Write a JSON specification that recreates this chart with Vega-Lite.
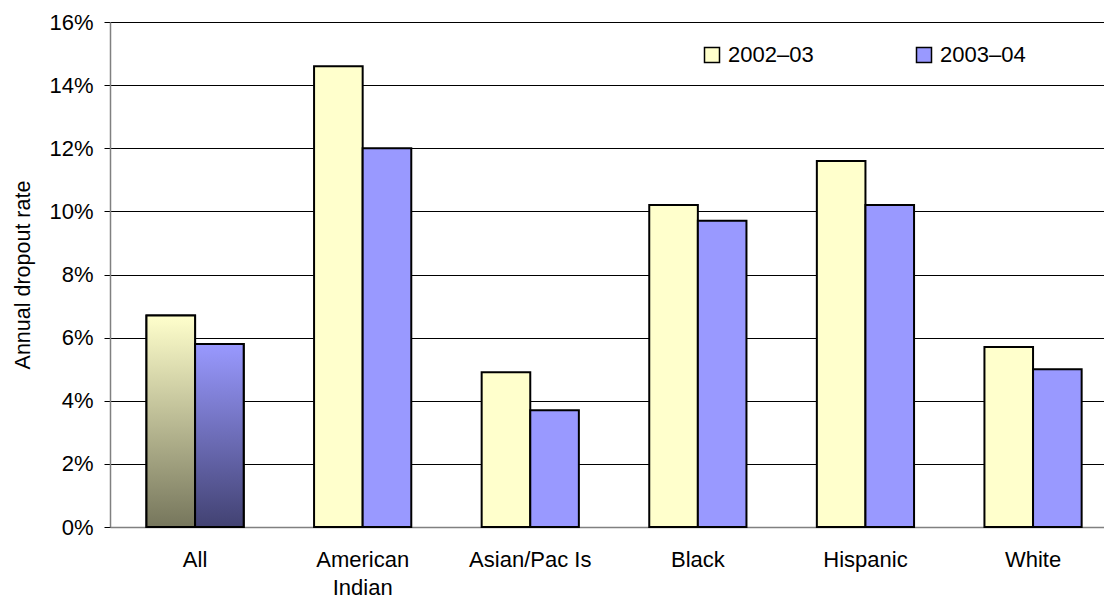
{
  "$schema": "https://vega.github.io/schema/vega-lite/v6.json",
  "width": 994,
  "height": 505,
  "autosize": {"type": "none"},
  "padding": {"left": 110, "top": 22, "right": 0, "bottom": 72},
  "background": "white",
  "config": {
    "font": "Liberation Sans",
    "view": {"stroke": null}
  },
  "data": {
    "values": [
      {"group": "All", "series": "2002–03", "rate": 6.7},
      {"group": "All", "series": "2003–04", "rate": 5.8},
      {"group": "American Indian", "series": "2002–03", "rate": 14.6},
      {"group": "American Indian", "series": "2003–04", "rate": 12.0},
      {"group": "Asian/Pac Is", "series": "2002–03", "rate": 4.9},
      {"group": "Asian/Pac Is", "series": "2003–04", "rate": 3.7},
      {"group": "Black", "series": "2002–03", "rate": 10.2},
      {"group": "Black", "series": "2003–04", "rate": 9.7},
      {"group": "Hispanic", "series": "2002–03", "rate": 11.6},
      {"group": "Hispanic", "series": "2003–04", "rate": 10.2},
      {"group": "White", "series": "2002–03", "rate": 5.7},
      {"group": "White", "series": "2003–04", "rate": 5.0}
    ]
  },
  "encoding": {
    "x": {
      "field": "group",
      "type": "nominal",
      "sort": null,
      "scale": {"paddingInner": 0.42, "paddingOuter": 0.1755, "align": 0.62},
      "axis": {
        "title": null,
        "labelAngle": 0,
        "labelFontSize": 22,
        "labelColor": "black",
        "labelPadding": 22,
        "labelLineHeight": 28,
        "ticks": false,
        "domainColor": "#808080",
        "domainWidth": 1.5,
        "labelExpr": "datum.label == 'American Indian' ? ['American', 'Indian'] : datum.label"
      }
    },
    "xOffset": {"field": "series", "type": "nominal", "scale": {"paddingInner": 0, "paddingOuter": 0}},
    "y": {
      "field": "rate",
      "type": "quantitative",
      "scale": {"domain": [0, 16], "nice": false},
      "axis": {
        "title": "Annual dropout rate",
        "titleFontSize": 21.5,
        "titleFontWeight": "normal",
        "titleColor": "black",
        "titlePadding": 14,
        "values": [0, 2, 4, 6, 8, 10, 12, 14, 16],
        "labelExpr": "datum.value + '%'",
        "labelFontSize": 22,
        "labelColor": "black",
        "labelPadding": 11,
        "tickColor": "black",
        "tickSize": 6,
        "grid": true,
        "gridColor": "black",
        "gridWidth": 1,
        "domainColor": "#808080",
        "domainWidth": 1.5
      }
    }
  },
  "layer": [
    {
      "mark": {"type": "bar", "stroke": "black", "strokeWidth": 2},
      "encoding": {
        "color": {
          "field": "series",
          "type": "nominal",
          "scale": {"domain": ["2002–03", "2003–04"], "range": ["#FFFFCC", "#9999FF"]},
          "legend": {
            "title": null,
            "orient": "none",
            "legendX": 591,
            "legendY": 22,
            "direction": "horizontal",
            "symbolType": "square",
            "symbolSize": 225,
            "symbolStrokeColor": "black",
            "symbolStrokeWidth": 1.5,
            "symbolOpacity": 1,
            "labelFontSize": 22,
            "labelColor": "black",
            "labelOffset": 5,
            "columnPadding": 99
          }
        }
      }
    },
    {
      "transform": [{"filter": "datum.group == 'All' && datum.series == '2002–03'"}],
      "mark": {
        "type": "bar",
        "stroke": "black",
        "strokeWidth": 2,
        "fill": {"gradient": "linear", "x1": 0, "y1": 0, "x2": 0, "y2": 1,
          "stops": [{"offset": 0, "color": "#FFFFCC"}, {"offset": 1, "color": "#76765C"}]}
      },
      "encoding": {}
    },
    {
      "transform": [{"filter": "datum.group == 'All' && datum.series == '2003–04'"}],
      "mark": {
        "type": "bar",
        "stroke": "black",
        "strokeWidth": 2,
        "fill": {"gradient": "linear", "x1": 0, "y1": 0, "x2": 0, "y2": 1,
          "stops": [{"offset": 0, "color": "#9999FF"}, {"offset": 1, "color": "#424272"}]}
      },
      "encoding": {}
    }
  ]
}
